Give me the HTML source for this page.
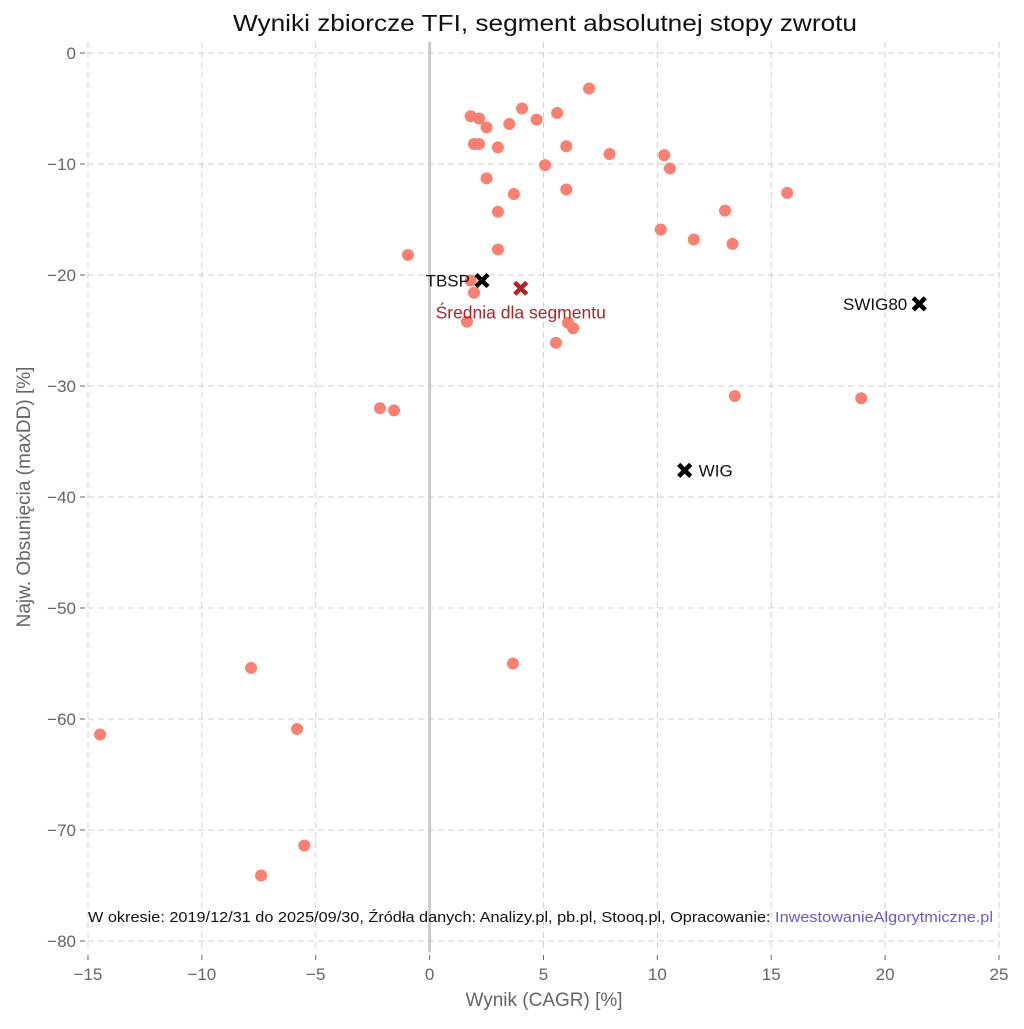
<!DOCTYPE html>
<html><head><meta charset="utf-8"><style>
body{margin:0;background:#fff;font-family:"Liberation Sans","DejaVu Sans",sans-serif;}
svg text{font-family:"Liberation Sans","DejaVu Sans",sans-serif;}
</style></head><body>
<svg id="chart" width="1024" height="1024" viewBox="0 0 1024 1024" xmlns="http://www.w3.org/2000/svg">
<rect width="1024" height="1024" fill="#fff"/>
<text x="233" y="31" font-size="23" textLength="624" lengthAdjust="spacingAndGlyphs" fill="#111">Wyniki zbiorcze TFI, segment absolutnej stopy zwrotu</text>
<g id="grid"></g><g id="ticks"></g><g id="marks"></g>
<text x="544" y="1006" font-size="19" text-anchor="middle" fill="#666">Wynik (CAGR) [%]</text>
<text transform="translate(30,497) rotate(-90)" font-size="19" text-anchor="middle" fill="#666">Najw. Obsunięcia (maxDD) [%]</text>
<text x="88" y="922" font-size="15" textLength="905" lengthAdjust="spacingAndGlyphs" fill="#111">W okresie: 2019/12/31 do 2025/09/30, Źródła danych: Analizy.pl, pb.pl, Stooq.pl, Opracowanie: <tspan fill="#6a5acd">InwestowanieAlgorytmiczne.pl</tspan></text>
</svg>
<script>
const fundX=[7.0,4.06,5.6,1.8,2.17,4.7,3.5,2.5,1.95,2.17,3.0,6.0,7.9,10.3,10.55,5.07,2.5,3.7,6.0,15.7,12.97,3.0,10.15,11.6,13.3,3.0,-0.95,1.8,1.95,1.64,6.08,6.3,5.55,13.4,18.95,-2.18,-1.56,-7.84,3.66,-14.47,-5.82,-5.5,-7.4];
const fundY=[-3.2,-5.0,-5.4,-5.7,-5.9,-6.0,-6.4,-6.7,-8.2,-8.2,-8.5,-8.4,-9.1,-9.2,-10.4,-10.1,-11.3,-12.7,-12.3,-12.6,-14.2,-14.3,-15.9,-16.8,-17.2,-17.7,-18.2,-20.5,-21.6,-24.2,-24.3,-24.8,-26.1,-30.9,-31.1,-32.0,-32.2,-55.4,-55.0,-61.4,-60.9,-71.4,-74.1];
const benchNames=["TBSP","SWIG80","WIG"];
const benchX=[2.3,21.5,11.2];
const benchY=[-20.5,-22.6,-37.6];
const avgX=[4.0];
const avgY=[-21.2];
const xTicks=[-15,-10,-5,0,5,10,15,20,25];
const yTicks=[0,-10,-20,-30,-40,-50,-60,-70,-80];
const NS="http://www.w3.org/2000/svg";
const sx=v=>429.6+v*22.775, sy=v=>53-v*11.1;
function mk(t,a,p){const e=document.createElementNS(NS,t);for(const k in a)e.setAttribute(k,a[k]);p.appendChild(e);return e;}
const G=document.getElementById('grid'),T=document.getElementById('ticks'),M=document.getElementById('marks');
xTicks.forEach(v=>{const x=sx(v);
 const l=mk('line',{x1:x,x2:x,y1:42,y2:952,stroke:'#d0d0d0','stroke-dasharray':'6,4'},G);
 
 
 mk('line',{x1:x,x2:x,y1:955,y2:960,stroke:'#666'},T);
 const t=mk('text',{x:x,y:980,'font-size':17,'text-anchor':'middle',fill:'#666'},T);t.textContent=v<0?'\u2212'+(-v):v;
 
 });
yTicks.forEach(v=>{const y=sy(v);
 const l=mk('line',{x1:88,x2:999,y1:y,y2:y,stroke:'#d0d0d0','stroke-dasharray':'6,4'},G);
 
 
 mk('line',{x1:80,x2:85,y1:y,y2:y,stroke:'#666'},T);
 const t=mk('text',{x:76,y:y+6,'font-size':17,'text-anchor':'end',fill:'#666'},T);t.textContent=v<0?'\u2212'+(-v):v;
 
 });
const zl=mk('line',{x1:sx(0),x2:sx(0),y1:42,y2:952,stroke:'#cccccc','stroke-width':3},G);


fundX.forEach((v,i)=>{const c=mk('circle',{cx:sx(v),cy:sy(fundY[i]),r:6,fill:'#fa8072'},M);
 
 });
function cross(x,y,col,name){const g=mk('g',{},M);
 
 
 mk('path',{d:`M${x-6},${y-6}L${x+6},${y+6}M${x-6},${y+6}L${x+6},${y-6}`,stroke:col,'stroke-width':4.5},g);}
benchNames.forEach((n,i)=>{const x=sx(benchX[i]),y=sy(benchY[i]);cross(x,y,'#000','benchmark-'+n.toLowerCase());
 const t=mk('text',{x:n==='WIG'?x+14:x-12,y:y+6,'font-size':17,'text-anchor':n==='WIG'?'start':'end',fill:'#111'},M);t.textContent=n;
 
 });
avgX.forEach((v,i)=>{const x=sx(v),y=sy(avgY[i]);cross(x,y,'#b22222','segment-average');
 const t=mk('text',{x:x,y:y+30,'font-size':17.5,'text-anchor':'middle',fill:'#b22222'},M);t.textContent='Średnia dla segmentu';
 
 });
</script>
</body></html>
